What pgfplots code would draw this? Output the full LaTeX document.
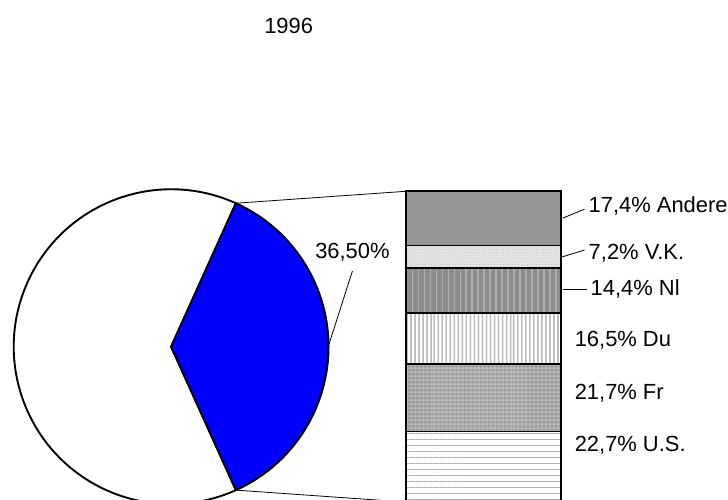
\documentclass[border=0pt]{standalone}
\usepackage{pgfplots}
\pgfplotsset{compat=1.18}
\usepackage{fontspec}
\setmainfont{Liberation Sans}
\usetikzlibrary{patterns,patterns.meta}
\begin{document}
\def\share{36.5}
\begin{tikzpicture}
\fontsize{22}{26}\selectfont
% main axis in pixel coordinates
\begin{axis}[at={(0pt,0pt)},anchor=south west,scale only axis,width=728pt,height=501pt,
  xmin=0,xmax=728,ymin=0,ymax=501,y dir=reverse,hide axis,clip=false]
  \pgfmathsetmacro{\half}{3.6*\share/2}
  % pie: rest
  \draw[line width=1.9pt,fill=white] (axis cs:169,348) -- ++(\half:158pt)
     arc[start angle=\half,end angle=360-\half,radius=158pt] -- cycle;
  % pie: exploded share
  \draw[line width=1.9pt,fill=blue] (axis cs:169,348) -- ++(-\half:158pt)
     arc[start angle=-\half,end angle=\half,radius=158pt] -- cycle;
  % connectors
  \draw[line width=0.8pt] (axis cs:169,348) ++(\half:158pt) -- (axis cs:405,192);
  \draw[line width=0.8pt] (axis cs:169,348) ++(-\half:158pt) -- (axis cs:405,504);
  % pie label
  \node[anchor=center,inner sep=0pt] at (axis cs:351,253) {36,50\%};
  \draw[line width=0.8pt] (axis cs:351,272) -- (axis cs:327,347);
  \node at (axis cs:287,26) {1996};
  % bar labels
  \draw[line width=0.8pt] (axis cs:562,219) -- (axis cs:584,210);
  \node[anchor=west,inner sep=0pt] at (axis cs:588,207) {17,4\% Andere};
  \draw[line width=0.8pt] (axis cs:561,258) -- (axis cs:584,251);
  \node[anchor=west,inner sep=0pt] at (axis cs:588,254) {7,2\% V.K.};
  \draw[line width=0.8pt] (axis cs:562,290) -- (axis cs:586,290);
  \node[anchor=west,inner sep=0pt] at (axis cs:590,290) {14,4\% Nl};
  \node[anchor=west,inner sep=0pt] at (axis cs:574,342) {16,5\% Du};
  \node[anchor=west,inner sep=0pt] at (axis cs:574,395) {21,7\% Fr};
  \node[anchor=west,inner sep=0pt] at (axis cs:574,447) {22,7\% U.S.};
\end{axis}
% stacked bar
\begin{axis}[at={(405pt,-3pt)},anchor=south west,scale only axis,width=155pt,height=312pt,
  xmin=0,xmax=1,ymin=0,ymax=99.9,hide axis,clip=false,
  ybar stacked,bar width=155pt]
  \addplot[draw=black,line width=1.8pt,fill=white,postaction={pattern={Lines[angle=0,distance=6pt,line width=1pt]},pattern color=black!30}] coordinates {(0.5,22.7)}; % U.S.
  \addplot[draw=black,line width=1.8pt,fill=black!40,postaction={pattern={Lines[angle=0,distance=4pt,line width=1pt]},pattern color=black!25},postaction={pattern={Lines[angle=90,distance=4pt,line width=1pt]},pattern color=black!25}] coordinates {(0.5,21.7)}; % Fr
  \addplot[draw=black,line width=1.8pt,fill=white,postaction={pattern={Lines[angle=90,distance=4pt,line width=1.3pt]},pattern color=black!40}] coordinates {(0.5,16.5)}; % Du
  \addplot[draw=black,line width=1.8pt,fill=black!45,postaction={pattern={Lines[angle=90,distance=6pt,line width=1.5pt]},pattern color=black!32}] coordinates {(0.5,14.4)}; % Nl
  \addplot[draw=black,line width=1.8pt,fill=black!10,postaction={pattern=crosshatch dots,pattern color=black!22}] coordinates {(0.5,7.2)}; % V.K.
  \addplot[draw=black,line width=1.8pt,fill=black!41] coordinates {(0.5,17.4)}; % Andere
\end{axis}
\pgfresetboundingbox
\path[use as bounding box] (0,0) rectangle (728pt,501pt);
\end{tikzpicture}
\end{document}
